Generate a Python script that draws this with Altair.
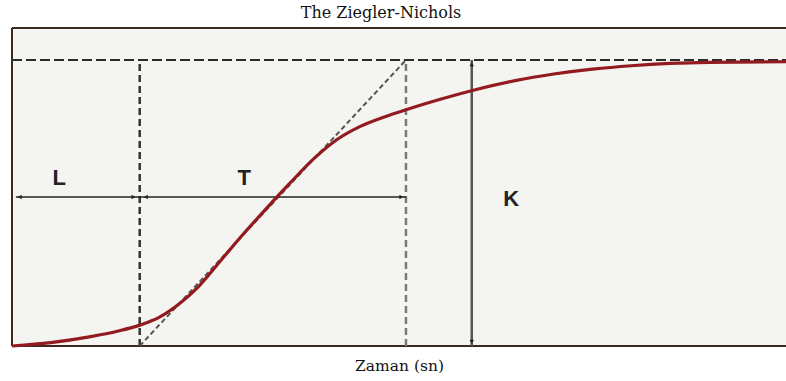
import altair as alt
import pandas as pd

# Process reaction curve (time, normalised output)
time_s = [0.0, 0.5, 1.0, 1.4, 1.65, 1.9, 2.15, 2.4, 2.7, 3.0, 3.3, 3.6, 3.9, 4.2,
          4.5, 4.8, 5.1, 5.5, 6.0, 6.5, 7.0, 7.5, 8.0, 8.5, 9.0, 10.0]
response = [0.0, 0.012, 0.032, 0.054, 0.073, 0.100, 0.145, 0.205, 0.300, 0.395,
            0.485, 0.572, 0.655, 0.722, 0.768, 0.800, 0.827, 0.860, 0.897, 0.928,
            0.951, 0.968, 0.980, 0.988, 0.992, 0.994]

# Ziegler-Nichols construction values
L_end = 1.65      # dead time L
T_end = 5.09      # L + T
K_x = 5.94        # where the gain K is marked
K = 1.0           # steady-state gain
bar_y = 0.521     # level of the L / T measuring bar
X_MAX = 10.0
Y_MAX = 1.112

labels = ["L", "T", "K"]
label_x = [0.61, 3.0, 6.45]
label_y = [0.587, 0.587, 0.514]

xs = alt.Scale(domain=[0, X_MAX], nice=False, zero=False)
ys = alt.Scale(domain=[0, Y_MAX], nice=False, zero=False)
x_axis = alt.Axis(title="Zaman (sn)", domain=False, ticks=False, labels=False, grid=False,
                  titleFont="DejaVu Serif", titleFontSize=15.5, titleFontWeight="normal",
                  titleColor="#111", titlePadding=12)
x_enc = alt.X("x:Q", scale=xs, axis=x_axis)
y_enc = alt.Y("y:Q", scale=ys, axis=None)

curve_df = pd.DataFrame({"x": time_s, "y": response})

# Frame lines (left, top, bottom)
frame_v = pd.DataFrame({"x": [0.0], "y": [0.0], "y2": [Y_MAX]})
frame_h = pd.DataFrame({"x": [0.0, 0.0], "x2": [X_MAX, X_MAX], "y": [0.0, Y_MAX]})

frame_left = alt.Chart(frame_v).mark_rule(color="#3a2a20", strokeWidth=2).encode(
    x=x_enc, y=y_enc, y2="y2:Q")
frame_tb = alt.Chart(frame_h).mark_rule(color="#3a2a20", strokeWidth=2).encode(
    x=x_enc, x2="x2:Q", y=y_enc)

# Steady-state level (dashed)
top_dash = alt.Chart(pd.DataFrame({"x": [0.0], "x2": [X_MAX], "y": [K]})).mark_rule(
    color="#2a2a2a", strokeWidth=2, strokeDash=[10, 4]).encode(x=x_enc, x2="x2:Q", y=y_enc)

# Dashed verticals at L and L+T
vert_df = pd.DataFrame({"x": [L_end, T_end], "y": [0.0, 0.0], "y2": [K, K],
                        "c": ["#333333", "#7a7a7a"]})
vert_dash = alt.Chart(vert_df).mark_rule(strokeWidth=2.5, strokeDash=[7, 4]).encode(
    x=x_enc, y=y_enc, y2="y2:Q", color=alt.Color("c:N", scale=None))

# Tangent at the inflection point
tangent = alt.Chart(pd.DataFrame({"x": [L_end, T_end], "y": [0.0, K]})).mark_line(
    color="#555555", strokeWidth=2, strokeDash=[5, 3]).encode(x=x_enc, y=y_enc)

# L / T measuring bar
bar = alt.Chart(pd.DataFrame({"x": [0.05], "x2": [T_end], "y": [bar_y]})).mark_rule(
    color="#222222", strokeWidth=1.5).encode(x=x_enc, x2="x2:Q", y=y_enc)

# K measuring bar
kbar = alt.Chart(pd.DataFrame({"x": [K_x], "y": [0.0], "y2": [K]})).mark_rule(
    color="#555555", strokeWidth=2.5).encode(x=x_enc, y=y_enc, y2="y2:Q")

# Small arrow heads
arrow_df = pd.DataFrame({
    "x": [0.1, L_end - 0.08, L_end + 0.08, T_end - 0.06, K_x, K_x],
    "y": [bar_y, bar_y, bar_y, bar_y, K - 0.015, 0.015],
    "s": ["triangle-left", "triangle-right", "triangle-left", "triangle-right",
          "triangle-up", "triangle-down"],
})
arrows = alt.Chart(arrow_df).mark_point(filled=True, size=20, color="#222222", opacity=1).encode(
    x=x_enc, y=y_enc, shape=alt.Shape("s:N", scale=None))

# Response curve
curve = alt.Chart(curve_df).mark_line(color="#931b20", strokeWidth=3.2,
                                      interpolate="monotone").encode(x=x_enc, y=y_enc)

# Letter labels
lab_df = pd.DataFrame({"x": label_x, "y": label_y, "t": labels})
letters = alt.Chart(lab_df).mark_text(font="Liberation Sans", fontWeight="bold", fontSize=22,
                                      color="#222222").encode(x=x_enc, y=y_enc, text="t:N")

chart = alt.layer(
    frame_left, frame_tb, top_dash, vert_dash, tangent, bar, kbar, curve, arrows, letters
).properties(
    width=774, height=318,
    title=alt.TitleParams("The Ziegler-Nichols", font="DejaVu Serif", fontSize=16,
                          fontWeight="normal", color="#111", anchor="middle", dx=-18,
                          offset=-7, baseline="alphabetic"),
    autosize=alt.AutoSizeParams(type="none"),
    padding={"left": 12, "top": 28, "right": 0, "bottom": 35},
).configure_view(
    stroke=None, fill="#f4f4f1"
)

chart.save("out.html", embed_options={"renderer": "svg", "actions": False})
